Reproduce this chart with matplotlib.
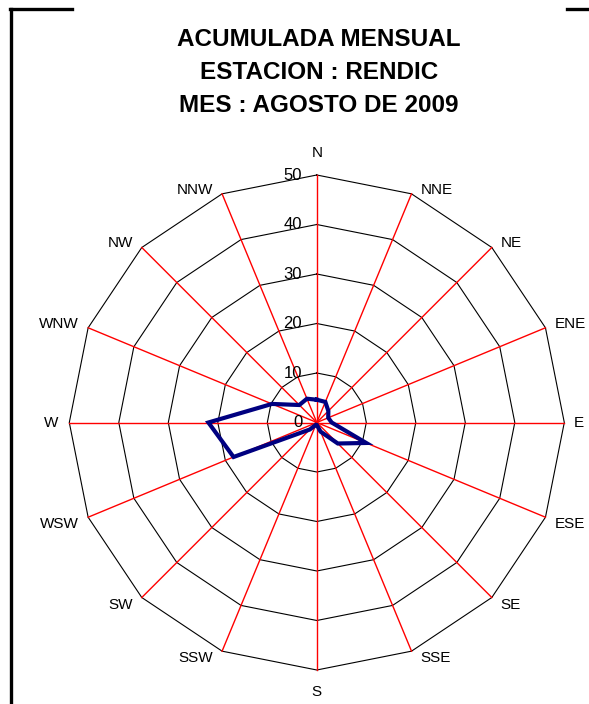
import numpy as np
import matplotlib.pyplot as plt
from matplotlib.lines import Line2D

plt.rcParams['font.family'] = ['Liberation Sans', 'DejaVu Sans']

# wind rose data (accumulated monthly, station RENDIC, August 2009)
directions = ['N', 'NNE', 'NE', 'ENE', 'E', 'ESE', 'SE', 'SSE',
              'S', 'SSW', 'SW', 'WSW', 'W', 'WNW', 'NW', 'NNW']
values = [4.6, 4.5, 3.3, 2.5, 3.0, 10.8, 6.0, 2.0,
          0.5, 0.5, 2.0, 18.2, 21.9, 9.8, 5.0, 5.2]
rings = [10, 20, 30, 40, 50]
tick_values = [0, 10, 20, 30, 40, 50]
title_lines = ["ACUMULADA MENSUAL", "ESTACION : RENDIC", "MES : AGOSTO DE 2009"]

W, H = 589, 704
cx, cy, scale = 316.8, 422.5, 4.95  # pixel centre and px per unit

fig = plt.figure(figsize=(W / 100, H / 100), dpi=100)
ax = fig.add_axes([0, 0, 1, 1])
ax.set_xlim(-cx / scale, (W - cx) / scale)
ax.set_ylim((cy - H) / scale, cy / scale)
ax.axis('off')

theta = np.deg2rad(np.arange(len(directions)) * 22.5)


def to_xy(r):
    r = np.asarray(r, dtype=float)
    return r * np.sin(theta), r * np.cos(theta)


rmax = rings[-1]

# polygon grid rings
for r in rings:
    x, y = to_xy(np.full(len(theta), r))
    ax.plot(np.append(x, x[0]), np.append(y, y[0]), color='black', lw=0.8, zorder=1)

# red spokes
xo, yo = to_xy(np.full(len(theta), rmax))
for i in range(len(theta)):
    ax.plot([0, xo[i]], [0, yo[i]], color='#ff0000', lw=1.0, zorder=2)

# data polygon
x, y = to_xy(values)
ax.plot(np.append(x, x[0]), np.append(y, y[0]), color='#000080', lw=3.0,
        solid_joinstyle='miter', zorder=3)

# radial tick labels along N spoke
for v in tick_values:
    ax.annotate(str(v), (0, v), xytext=(-10.5, 0), textcoords='offset points',
                ha='right', va='center', fontsize=12, zorder=4)

# direction labels
for i, d in enumerate(directions):
    ang = i * 22.5
    if ang == 0:
        off, ha, va = (0, 11), 'center', 'bottom'
    elif ang == 180:
        off, ha, va = (0, -11), 'center', 'top'
    elif ang == 90:
        off, ha, va = (7, 0), 'left', 'center'
    elif ang == 270:
        off, ha, va = (-8, 0), 'right', 'center'
    else:
        ha = 'left' if ang < 180 else 'right'
        va = 'baseline' if (ang < 90 or ang > 270) else 'top'
        off = (6.5 if ang < 180 else -6.5, 0)
    ax.annotate(d, (xo[i], yo[i]), xytext=off, textcoords='offset points',
                ha=ha, va=va, fontsize=11)

# title, one text per line
for line, ypx in zip(title_lines, [37, 70, 103]):
    fig.text(319 / W, 1 - ypx / H, line, ha='center', va='center_baseline',
             fontsize=17.5, fontweight='bold')

# partial frame lines
lw = 2.4
fig.add_artist(Line2D([10.5 / W, 10.5 / W], [1 - 8.5 / H, 0], color='black', lw=lw))
fig.add_artist(Line2D([9.5 / W, 72 / W], [1 - 8.5 / H, 1 - 8.5 / H], color='black', lw=lw))
fig.add_artist(Line2D([567 / W, 1], [1 - 8.5 / H, 1 - 8.5 / H], color='black', lw=lw))

fig.savefig('out.png', dpi=100)
